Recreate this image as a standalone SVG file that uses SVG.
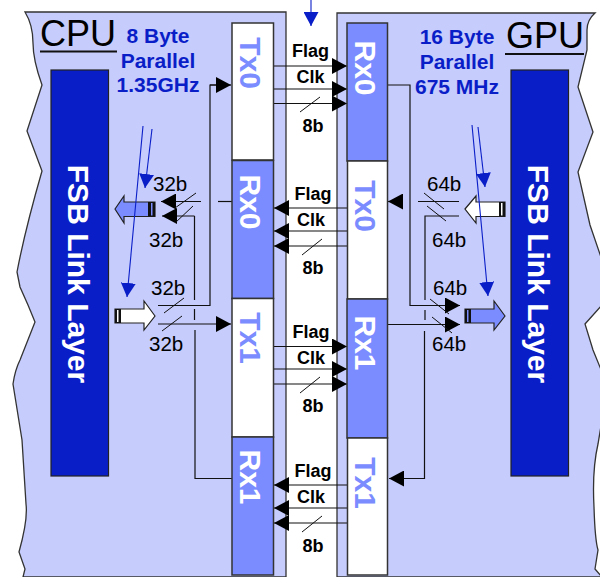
<svg xmlns="http://www.w3.org/2000/svg" width="600" height="577" viewBox="0 0 600 577">
<style>
text{font-family:"Liberation Sans",Arial,sans-serif}
.panel{fill:#c6ccfb;stroke:#333;stroke-width:1.3}
.tx{fill:#fff;stroke:#333;stroke-width:1.5}
.rx{fill:#7a8cff;stroke:#333;stroke-width:1.5}
.fsb{fill:#0a1ec8;stroke:#222;stroke-width:1.2}
.txl{font-size:30px;font-weight:bold;fill:#7a8cff;text-anchor:middle}
.rxl{font-size:30px;font-weight:bold;fill:#fff;text-anchor:middle}
.fl{font-size:30px;font-weight:bold;fill:#fff;text-anchor:middle}
.big{font-size:36px;fill:#000}
.bl{font-size:21px;font-weight:bold;fill:#0a1ec8;text-anchor:middle}
.sig{font-size:18px;font-weight:bold;fill:#000;text-anchor:middle}
.w{font-size:20.500px;fill:#000}
.c{fill:none;stroke:#111;stroke-width:1.2}
.a{fill:none;stroke:#111;stroke-width:1.2;marker-end:url(#ah)}
.s{fill:none;stroke:#111;stroke-width:1}
.b{fill:none;stroke:#0a1ec8;stroke-width:1.1;marker-end:url(#bh)}
.ba{stroke:#222;stroke-width:1.2}
</style>
<defs>
<marker id="ah" markerUnits="userSpaceOnUse" markerWidth="16" markerHeight="16" refX="15" refY="8" orient="auto"><path d="M0 0L15 8L0 16Z" fill="#000"/></marker>
<marker id="bh" markerUnits="userSpaceOnUse" markerWidth="15" markerHeight="15" refX="14" refY="7.5" orient="auto"><path d="M0 0L14 7.5L0 15Z" fill="#0a1ec8"/></marker>
</defs>
<g id="cpu-panel">
<path class="panel" d="M25 12L286 12L286 577L23 577L25 569L19 552Q28 520 26 504Q24 470 22 440L13 384Q15 370 20 360L35 322L28 305L20 287L17 272Q25 230 42 171L27 131L42 85Q33 60 33 43Q33 25 25 12Z"/>
<text class="big" x="40" y="46">CPU</text>
<path d="M40 51.500H117" stroke="#111" stroke-width="2"/>
<text class="bl" x="158" y="43">8 Byte</text><text class="bl" x="158" y="68">Parallel</text><text class="bl" x="158" y="92">1.35GHz</text>
</g>
<g id="gpu-panel">
<path class="panel" d="M337 13L595 13Q587 20 587 30L587 50L578 87L593 132L578 172L590 225L602 260L602 305L585 324L593 350L602 372L602 420L598 444Q592 470 594 507Q595 540 598 550L595 569L602 577L337 577Z"/>
<text class="big" x="506" y="48">GPU</text>
<path d="M505 54H584" stroke="#111" stroke-width="2"/>
<text class="bl" x="457" y="44">16 Byte</text><text class="bl" x="457" y="69">Parallel</text><text class="bl" x="457" y="94">675 MHz</text>
</g>
<g id="connectors">
<path class="a" d="M273 66H347"/><path class="a" d="M273 89H347"/><path class="a" d="M273 103.500H347"/><path class="s" d="M300 112L320 97"/>
<path class="a" d="M347 208H274"/><path class="a" d="M347 231H274"/><path class="a" d="M347 246H274"/><path class="s" d="M302 255L322 239"/>
<path class="a" d="M273 346.500H347"/><path class="a" d="M273 369H347"/><path class="a" d="M273 384H347"/><path class="s" d="M300 393L320 377"/>
<path class="a" d="M347 485H274"/><path class="a" d="M347 508H274"/><path class="a" d="M347 523H274"/><path class="s" d="M302 532L322 516"/>
<path class="c" d="M158 305.500H210V85H217"/><path class="a" d="M210 85H231"/>
<path class="c" d="M232 201.500H218"/><path class="a" d="M201 201.500H161"/>
<path class="a" d="M194.500 216H162"/><path class="c" d="M194.500 216V300M194.500 309V320M195 330V478.500H232"/>
<path class="a" d="M158 324H231"/>
<path class="s" d="M175 208L196 193M175 223L193 206M164 313L184 298M162 331L182 316"/>
<path class="a" d="M403 201.500H388"/><path class="c" d="M418 201.500H459"/>
<path class="c" d="M459 216H425V300M425 310V320M424.500 331V478.500H403"/><path class="a" d="M425 478.500H389"/>
<path class="c" d="M387 85H410V305.500H446"/><path class="a" d="M410 305.500H460"/>
<path class="a" d="M387 324.500H460"/>
<path class="s" d="M424 193L444 209M427 206L446 221M430 299L449 314M432 317L452 333"/>
</g>
<g id="cpu-tx0"><rect class="tx" x="232" y="23" width="41.500" height="137"/><text class="txl" transform="translate(240 63) rotate(90)">Tx0</text></g>
<g id="cpu-rx0"><rect class="rx" x="232" y="160.500" width="41.500" height="138"/><text class="rxl" transform="translate(240 202) rotate(90)">Rx0</text></g>
<g id="cpu-tx1"><rect class="tx" x="232" y="298.500" width="41.500" height="138.500"/><text class="txl" transform="translate(240 338) rotate(90)">Tx1</text></g>
<g id="cpu-rx1"><rect class="rx" x="232" y="437" width="41.500" height="138"/><text class="rxl" transform="translate(240 477) rotate(90)">Rx1</text></g>
<g id="gpu-rx0"><rect class="rx" x="347" y="23" width="40.500" height="138"/><text class="rxl" transform="translate(355 68) rotate(90)">Rx0</text></g>
<g id="gpu-tx0"><rect class="tx" x="347.500" y="161" width="40" height="138"/><text class="txl" transform="translate(355 206) rotate(90)">Tx0</text></g>
<g id="gpu-rx1"><rect class="rx" x="347" y="299" width="40.500" height="139"/><text class="rxl" transform="translate(355 343) rotate(90)">Rx1</text></g>
<g id="gpu-tx1"><rect class="tx" x="347.500" y="438" width="40" height="137"/><text class="txl" transform="translate(355 483) rotate(90)">Tx1</text></g>
<g id="cpu-fsb"><rect class="fsb" x="51" y="70" width="57.500" height="406"/><text class="fl" transform="translate(68 274) rotate(90)">FSB Link Layer</text></g>
<g id="gpu-fsb"><rect class="fsb" x="511" y="70" width="57.500" height="406"/><text class="fl" transform="translate(528 274) rotate(90)">FSB Link Layer</text></g>
<g id="signal-labels">
<text class="sig" x="310.500" y="57">Flag</text><text class="sig" x="310.500" y="83">Clk</text><text class="sig" x="313" y="132">8b</text>
<text class="sig" x="313" y="200">Flag</text><text class="sig" x="311" y="226">Clk</text><text class="sig" x="313" y="274">8b</text>
<text class="sig" x="311" y="338">Flag</text><text class="sig" x="311" y="364">Clk</text><text class="sig" x="313" y="412">8b</text>
<text class="sig" x="313" y="477">Flag</text><text class="sig" x="311" y="503">Clk</text><text class="sig" x="313" y="552">8b</text>
</g>
<g id="width-labels">
<text class="w" x="153" y="191">32b</text><text class="w" x="149" y="247">32b</text><text class="w" x="151" y="295">32b</text><text class="w" x="149" y="351">32b</text>
<text class="w" x="427" y="191">64b</text><text class="w" x="432" y="247">64b</text><text class="w" x="433" y="295">64b</text><text class="w" x="432" y="351">64b</text>
</g>
<g id="block-arrows">
<path class="ba" fill="#7a8cff" d="M115 209L124 196V202H155V216.500H124V223Z"/><rect x="148" y="202" width="7" height="14.500" fill="#111"/><rect x="151" y="203" width="1.500" height="12.500" fill="#7a8cff"/>
<path class="ba" fill="#fff" d="M155 316L144 301V309H115V323H144V330Z"/><rect x="115" y="309" width="6" height="14" fill="#111"/><rect x="117" y="310" width="1.500" height="12" fill="#fff"/>
<path class="ba" fill="#fff" d="M465 209L476 196V202H505V216.500H476V223Z"/><rect x="499" y="202" width="6" height="14.500" fill="#111"/><rect x="501" y="203" width="1.500" height="12.500" fill="#fff"/>
<path class="ba" fill="#7a8cff" d="M505 316L494 301V309H465V323H494V330Z"/><rect x="465" y="309" width="6" height="14" fill="#111"/><rect x="467" y="310" width="1.500" height="12" fill="#7a8cff"/>
</g>
<g id="blue-arrows">
<path class="b" d="M143 126L127 297"/><path class="b" d="M152 129L145 188"/>
<path class="b" d="M472 125L488 296"/><path class="b" d="M478 127L485 187"/>
<path class="b" d="M311 0V26"/>
</g>
</svg>
